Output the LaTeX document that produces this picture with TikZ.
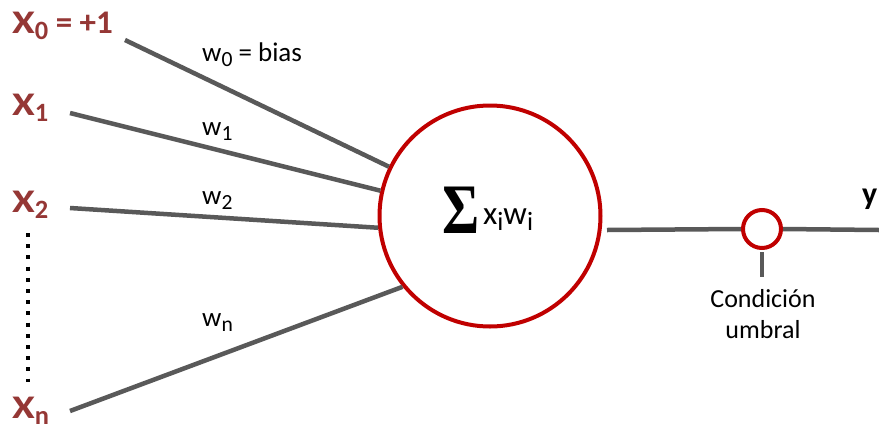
\documentclass[tikz,border=0pt]{standalone}
\usepackage{fontspec}
\setmainfont{Carlito}
\newfontfamily\sigfont{Liberation Serif}
\usepackage{graphicx}
\definecolor{inred}{HTML}{953735}
\definecolor{ringred}{HTML}{C00000}
\definecolor{wire}{HTML}{595959}
\newcommand{\lsub}[1]{\raisebox{-0.2em}{\scalebox{0.8}{#1}}}
\newcommand{\bigX}{\scalebox{1.25}[1]{X}}
\begin{document}
\begin{tikzpicture}[x=1pt,y=-1pt,
  inlabel/.style={anchor=base west,inner sep=0pt,text=inred,font=\fontsize{33}{33}\selectfont\bfseries},
  wlabel/.style={anchor=base west,inner sep=0pt,font=\fontsize{27}{27}\selectfont},
  wireline/.style={draw=wire,line width=4.5pt},
]
\useasboundingbox (0,0) rectangle (879,432);
\fill[white] (0,0) rectangle (879,432);
% neuron
\node[circle,draw=ringred,line width=4pt,fill=white,minimum size=221pt,inner sep=0pt] (S) at (490,216) {};
\node[inner sep=0pt,anchor=base] (sumtxt) at (488,224) {\raisebox{-9pt}{\scalebox{0.8}[1]{\sigfont\bfseries\fontsize{71}{71}\selectfont Σ}}\hspace{3pt}{\fontsize{33}{33}\selectfont x\lsub{i}w\lsub{i}}};
% inputs
\node[inlabel] (x0) at (12,33) {\bigX\lsub{0} = +1};
\node[inlabel] (x1) at (12,115) {\bigX\lsub{1}};
\node[inlabel] (x2) at (12,212) {\bigX\lsub{2}};
\node[inlabel] (xn) at (12,418) {\bigX\lsub{n}};
\coordinate (s0) at (125,40);
\coordinate (s1) at (70,113);
\coordinate (s2) at (70,208);
\coordinate (sn) at (70,411);
\draw[wireline] (s0) -- (S.154);
\draw[wireline] (s1) -- (S.167);
\draw[wireline] (s2) -- (S.186);
\draw[wireline] (sn) -- (S.219);
% dots
\coordinate (dtop) at (28,233);
\coordinate (dbot) at (28,382);
\draw[line width=4pt,dash pattern=on 4pt off 7.2pt] (dtop) -- (dbot);
% weights
\node[wlabel] (w0) at (202,61) {w\lsub{0} = bias};
\node[wlabel] (w1) at (202,135) {w\lsub{1}};
\node[wlabel] (w2) at (202,204) {w\lsub{2}};
\node[wlabel] (wn) at (202,326) {w\lsub{n}};
% output
\node[circle,draw=ringred,line width=4pt,fill=white,minimum size=38pt,inner sep=0pt] (T) at (762,229) {};
\coordinate (yend) at (879,230);
\coordinate (sout) at (607,230);
\draw[wireline] (sout) -- (T.west);
\draw[wireline] (T.east) -- (yend);
\coordinate (tickend) at (762,277);
\draw[wireline] (T.south) ++(0,2) -- (tickend);
\node[anchor=base,inner sep=0pt,font=\fontsize{26}{26}\selectfont] (cond) at (763,307) {Condición};
\node[anchor=base,inner sep=0pt,font=\fontsize{26}{26}\selectfont] (umb) at (763,338) {umbral};
\node[anchor=base west,inner sep=0pt,font=\fontsize{32}{32}\selectfont\bfseries] (y) at (862,204) {y};
\end{tikzpicture}
\end{document}
